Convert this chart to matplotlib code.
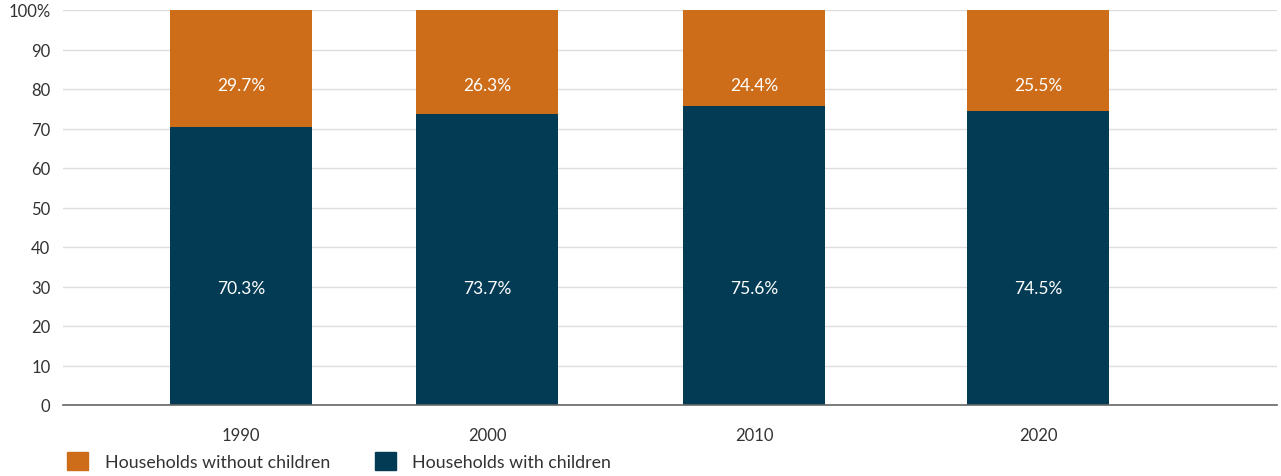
import matplotlib.pyplot as plt
from matplotlib.patches import Patch

plt.rcParams['font.family'] = ['Lato', 'DejaVu Sans']

years = ["1990", "2000", "2010", "2020"]
with_children = [70.3, 73.7, 75.6, 74.5]
without_children = [29.7, 26.3, 24.4, 25.5]
y_ticks = [0, 10, 20, 30, 40, 50, 60, 70, 80, 90, 100]
y_tick_labels = ["0", "10", "20", "30", "40", "50", "60", "70", "80", "90", "100%"]

# bar centres along the x axis (the source spaces them unevenly)
x_pos = [241, 487, 754, 1038]
bar_width = 142

navy = "#033B55"
orange = "#CD6D1A"
text_col = "#333333"

fig = plt.figure(figsize=(12.81, 4.77), dpi=100)
ax = fig.add_axes([63 / 1281, 1 - 406 / 477, (1277 - 63) / 1281, 395 / 477])

ax.bar(x_pos, with_children, width=bar_width, color=navy, zorder=3)
ax.bar(x_pos, without_children, width=bar_width, bottom=with_children, color=orange, zorder=3)

for x, w, wo in zip(x_pos, with_children, without_children):
    ax.text(x, 29.5, f"{w}%", ha="center", va="center", color="white", fontsize=12.5, zorder=4)
    ax.text(x, 81, f"{wo}%", ha="center", va="center", color="white", fontsize=12.5, zorder=4)

ax.set_xlim(63, 1277)
ax.set_ylim(0, 100)
ax.set_yticks(y_ticks)
ax.set_yticklabels(y_tick_labels)
ax.set_xticks(x_pos)
ax.set_xticklabels(years)
ax.tick_params(axis="y", length=0, pad=9, labelsize=12, labelcolor=text_col)
ax.tick_params(axis="x", length=0, pad=16, labelsize=12, labelcolor=text_col)

ax.grid(axis="y", color="#dddddd", linewidth=1, zorder=0)
ax.set_axisbelow(True)
for side in ["left", "right", "top"]:
    ax.spines[side].set_visible(False)
ax.spines["bottom"].set_color("#666666")
ax.spines["bottom"].set_linewidth(1.2)
ax.spines["bottom"].set_zorder(5)

handles = [Patch(color=orange, label="Households without children"),
           Patch(color=navy, label="Households with children")]
fig.legend(handles=handles, loc="center left", bbox_to_anchor=(67 / 1281, 1 - 462 / 477),
           ncol=2, frameon=False, borderpad=0, borderaxespad=0, handlelength=1.18,
           handleheight=1.18, handletextpad=0.95, columnspacing=2.5, fontsize=12.8,
           labelcolor=text_col)

fig.savefig("out.png", dpi=100)
